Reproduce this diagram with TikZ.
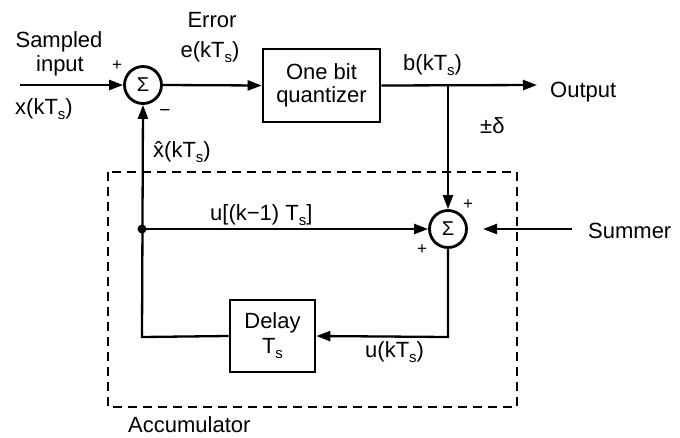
\documentclass[tikz,border=0pt]{standalone}
\usepackage{fontspec}
\setmainfont{Liberation Sans}
\usetikzlibrary{arrows.meta}
\newcommand{\ssub}{\raisebox{-5pt}{\fontsize{15}{15}\selectfont s}}
\begin{document}
\begin{tikzpicture}[x=1pt,y=-1pt,
  every node/.style={font=\fontsize{22}{23}\selectfont, inner sep=0pt},
  wire/.style={line width=2.3pt},
  arr/.style={wire,-{Triangle[length=14pt,width=10pt]}},
  sumnode/.style={circle,draw,line width=2.8pt,minimum size=37pt,font=\fontsize{20}{20}\selectfont},
  blockbox/.style={rectangle,draw,line width=2.6pt,align=center}]
\useasboundingbox (0,0) rectangle (680,437);

% dashed accumulator box
\draw[line width=2.3pt, dash pattern=on 9pt off 6pt] (108,172) rectangle (517,407);

% blocks
\node[sumnode] (s1) at (143,85) {Σ};
\node[blockbox, minimum width=117pt, minimum height=73pt] (q) at (321.5,85.5) {One bit\\quantizer};
\node[sumnode] (s2) at (448,229) {Σ};
\node[blockbox, minimum width=85pt, minimum height=72pt] (d) at (272.5,336) {Delay\\[2pt]T\ssub};
\fill (142,229) circle (4.5pt) coordinate (dot);

\coordinate (in) at (20,85);
\coordinate (out) at (537,85);
\coordinate (jb) at (448,85);
\coordinate (sumst) at (572,229);
\coordinate (sumend) at (483,229);
\coordinate (c1) at (448,337);
\coordinate (c2) at (142,337);

% connectors
\draw[arr] (in) -- (s1.west);
\draw[arr] (s1.east) -- (q.west);
\draw[arr] (q.east) -- (out);
\draw[arr] (jb) -- (s2.north);
\draw[arr] (dot) -- (s2.west);
\draw[arr] (sumst) -- (sumend);
\draw[arr] (s2.south) -- (c1) -- (d.east);
\draw[arr] (d.west) -- (c2) -- (s1.south);

% labels
\node[anchor=base] (l1) at (59,47) {Sampled};
\node[anchor=base] (l2) at (60,71) {input};
\node[anchor=base west] (l3) at (15,114) {x(kT\ssub)};
\node (p1) at (117,66) {\fontsize{17}{17}\selectfont +};
\node (m1) at (165,113) {\fontsize{19}{19}\selectfont −};
\node[anchor=base] (l4) at (212,27) {Error};
\node[anchor=base] (l5) at (210,57) {e(kT\ssub)};
\node[anchor=base west] (l6) at (153,157) {\^{x}(kT\ssub)};
\node[anchor=base west] (l7) at (403,70) {b(kT\ssub)};
\node[anchor=base west] (l8) at (550,97) {Output};
\node[anchor=base west] (l9) at (480,133) {±δ};
\node[anchor=base west] (l10) at (210,220) {u[(k−1) T\ssub]};
\node (p2) at (468,205) {\fontsize{17}{17}\selectfont +};
\node (p3) at (422,250) {\fontsize{17}{17}\selectfont +};
\node[anchor=base west] (l11) at (588,238) {Summer};
\node[anchor=base west] (l12) at (365,357) {u(kT\ssub)};
\node[anchor=base west] (l13) at (128,432) {Accumulator};
\end{tikzpicture}
\end{document}
